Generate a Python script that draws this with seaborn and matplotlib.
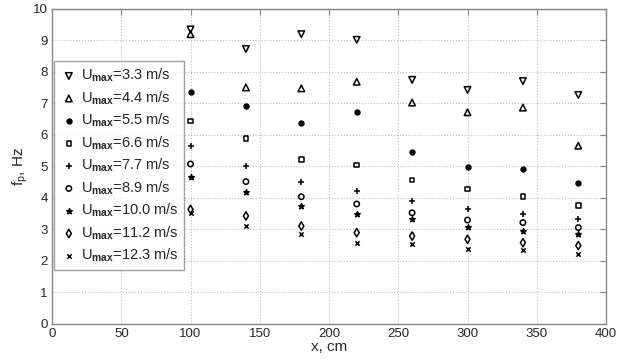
import numpy as np
import pandas as pd
import matplotlib
matplotlib.use("Agg")
import matplotlib.pyplot as plt
import seaborn as sns

# Streamwise stations (cm)
x_cm = [100, 140, 180, 220, 260, 300, 340, 380]

# Peak frequency f_p (Hz) for each maximum velocity
u_max = ["3.3", "4.4", "5.5", "6.6", "7.7", "8.9", "10.0", "11.2", "12.3"]
fp_3_3 = [9.35, 8.73, 9.20, 9.02, 7.75, 7.43, 7.71, 7.27]
fp_4_4 = [9.20, 7.51, 7.48, 7.69, 7.03, 6.72, 6.87, 5.66]
fp_5_5 = [7.36, 6.93, 6.39, 6.74, 5.47, 4.97, 4.92, 4.47]
fp_6_6 = [6.45, 5.89, 5.23, 5.05, 4.57, 4.28, 4.04, 3.76]
fp_7_7 = [5.66, 5.03, 4.50, 4.23, 3.91, 3.65, 3.48, 3.32]
fp_8_9 = [5.08, 4.52, 4.04, 3.81, 3.53, 3.30, 3.22, 3.06]
fp_10_0 = [4.66, 4.19, 3.75, 3.48, 3.32, 3.07, 2.96, 2.85]
fp_11_2 = [3.64, 3.43, 3.11, 2.90, 2.79, 2.69, 2.58, 2.49]
fp_12_3 = [3.53, 3.11, 2.85, 2.58, 2.54, 2.38, 2.35, 2.21]

series = [fp_3_3, fp_4_4, fp_5_5, fp_6_6, fp_7_7, fp_8_9, fp_10_0, fp_11_2, fp_12_3]
frames = []
for u, vals in zip(u_max, series):
    frames.append(pd.DataFrame({"x": x_cm, "fp": vals,
                                "U": f"U$_{{\\mathbf{{max}}}}$={u} m/s"}))
df = pd.concat(frames, ignore_index=True)

# marker, face colour, size for each velocity
styles = [
    ("v", "none", 22),
    ("^", "none", 22),
    ("o", "black", 12),
    ("s", "none", 11),
    ("+", "black", 24),
    ("o", "none", 15),
    ("*", "black", 16),
    ("d", "none", 18),
    ("x", "black", 10),
]

sns.set_style("white")
plt.rcParams["font.family"] = ["Liberation Sans", "DejaVu Sans"]
plt.rcParams["mathtext.fontset"] = "custom"
plt.rcParams["mathtext.rm"] = "Liberation Sans"
plt.rcParams["mathtext.it"] = "Liberation Sans:italic"
plt.rcParams["mathtext.bf"] = "Liberation Sans:bold"

fig = plt.figure(figsize=(6.27, 3.59), dpi=100)
ax = fig.add_axes([0.083, 0.0975, 0.8835, 0.8775])

for (label, sub), (mk, fc, sz) in zip(df.groupby("U", sort=False), styles):
    kw = dict(marker=mk, s=sz, linewidth=1.1, label=label, ax=ax)
    if mk in ("+", "x"):
        kw["color"] = "black"
    else:
        kw["facecolor"] = fc
        kw["edgecolor"] = "black"
    sns.scatterplot(data=sub, x="x", y="fp", **kw)

ax.set_xlim(0, 400)
ax.set_ylim(0, 10)
ax.set_xticks(np.arange(0, 401, 50))
ax.set_yticks(np.arange(0, 11, 1))
ax.grid(True, linestyle=":", color="#c0c0c0", linewidth=0.8)
ax.tick_params(direction="in", length=4, color="#888888", labelsize=9.5,
               top=True, right=True, pad=3)
for sp in ax.spines.values():
    sp.set_color("#888888")
    sp.set_linewidth(1.0)

ax.set_xlabel("x, cm", fontsize=11, labelpad=0)
ax.set_ylabel("f$_\\mathregular{p}$, Hz", fontsize=11, labelpad=2)

leg = ax.legend(loc="upper left", bbox_to_anchor=(0.004, 0.835), fontsize=10.5,
                frameon=True, fancybox=False, edgecolor="#888888",
                handletextpad=0.2, labelspacing=0.35, borderpad=0.4,
                handlelength=1.2, borderaxespad=0, markerscale=1.0)
leg.get_frame().set_linewidth(1.0)

fig.savefig("out.png", dpi=100)
